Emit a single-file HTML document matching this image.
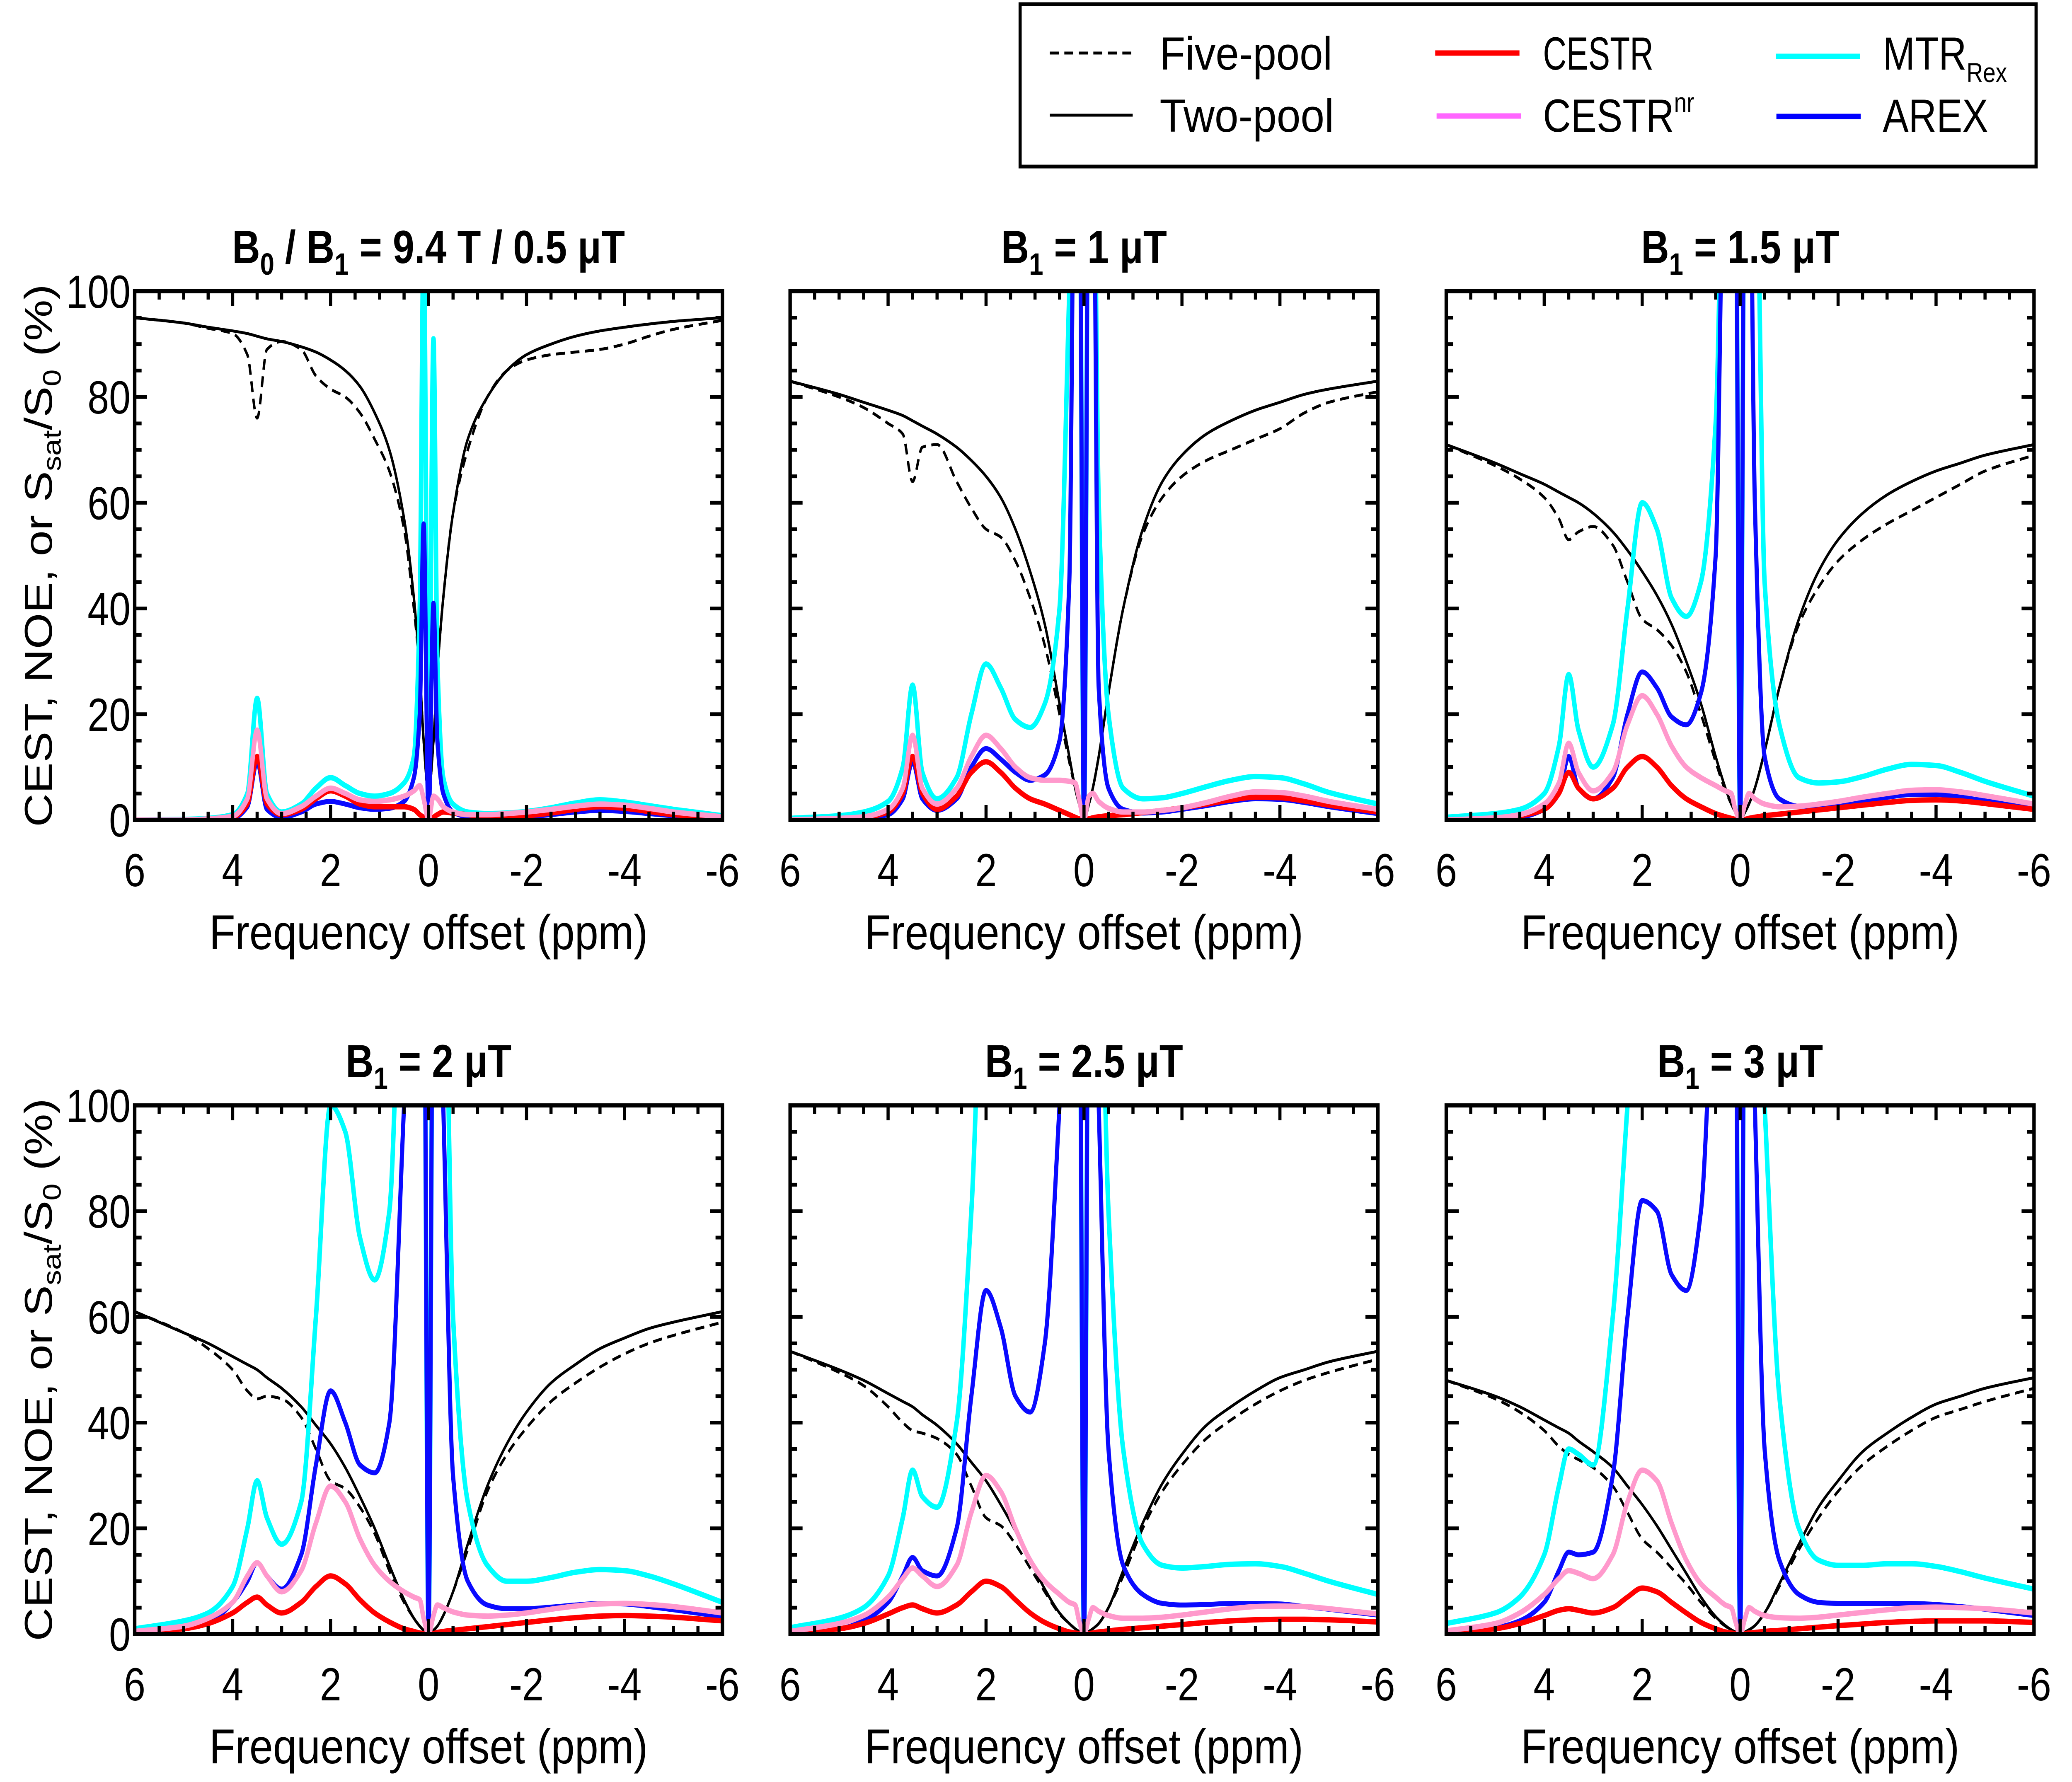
<!DOCTYPE html>
<html><head><meta charset="utf-8"><style>
html,body{margin:0;padding:0;background:#fff;overflow:hidden;width:100%;height:100%;}
svg{display:block;width:100vw;height:100vh;}
text{font-family:"Liberation Sans Narrow","Liberation Sans",sans-serif;fill:#000;}
</style></head><body>
<svg id="chart" xmlns="http://www.w3.org/2000/svg" viewBox="0 0 6000 4301" preserveAspectRatio="none">
<g id="legend">
<rect x="2954" y="10" width="2942" height="392" fill="#fff" stroke="#000" stroke-width="9"/>
<line x1="3040" y1="128" x2="3280" y2="128" stroke="#000" stroke-width="7" stroke-dasharray="26,16"/>
<text x="3358" y="168" font-size="112" textLength="500" lengthAdjust="spacingAndGlyphs">Five-pool</text>
<line x1="3040" y1="278" x2="3280" y2="278" stroke="#000" stroke-width="7"/>
<text x="3358" y="318" font-size="112" textLength="505" lengthAdjust="spacingAndGlyphs">Two-pool</text>
<line x1="4156" y1="128" x2="4400" y2="128" stroke="#ff0000" stroke-width="13"/>
<text x="4468" y="168" font-size="112" textLength="320" lengthAdjust="spacingAndGlyphs">CESTR</text>
<line x1="4160" y1="280" x2="4404" y2="280" stroke="#ff66ff" stroke-width="13"/>
<text x="4468" y="318" font-size="112">CESTR<tspan font-size="66" dy="-48">nr</tspan></text>
<line x1="5142" y1="136" x2="5386" y2="136" stroke="#00ffff" stroke-width="13"/>
<text x="5452" y="168" font-size="112">MTR<tspan font-size="66" dy="30">Rex</tspan></text>
<line x1="5144" y1="281" x2="5388" y2="281" stroke="#0000ff" stroke-width="13"/>
<text x="5452" y="318" font-size="112">AREX</text>
</g>
</svg>
<script>
// shared frequency-offset grid (ppm)
const ppm = [6,5,4.5,4,3.7,3.5,3.3,3,2.6,2.3,2,1.7,1.4,1.1,0.8,0.5,0.3,0.18,0.1,0,-0.1,-0.18,-0.3,-0.5,-0.8,-1.2,-1.6,-2,-2.5,-3,-3.5,-4,-4.5,-5,-6];
const xTicks = [6,4,2,0,-2,-4,-6];
const xTickLabels = ["6","4","2","0","-2","-4","-6"];
const yTicks = [0,20,40,60,80,100];
const yTickLabels = ["0","20","40","60","80","100"];
const panelTitles = [["B","0"," / B","1"," = 9.4 T / 0.5 μT"],["B","1"," = 1 μT"],["B","1"," = 1.5 μT"],["B","1"," = 2 μT"],["B","1"," = 2.5 μT"],["B","1"," = 3 μT"]];

// Panel 1: B1 = 0.5 uT
const p1Two  = [95,94,93.2,92.5,92,91.5,91,90.5,89.5,88.5,87,85,82,77,70,57,42,28,15,5,15,28,42,58,72,80,85,88,90,91.5,92.5,93.2,93.8,94.3,95];
const p1Five = [95,94,93,92,88,76,89,90.5,89,84,81.5,80,77,72,66,55,40,28,15,5,15,28,42,58,70,80,85,87,88,88.5,89,90,91.5,92.8,94.5];
const p1Cestr= [0,0,0,0.5,3,12,3,1,2,4,5.5,4.5,3,2.5,2.5,2.5,2,1,0.5,0,0.5,1,1.5,1.3,1,0.5,0.6,0.8,1.3,2,2.5,2.2,1.6,1,0.4];
const p1Nr   = [0,0,0.2,0.7,4,17,4,1.2,2.5,4.5,6,5,3.8,3.5,3.8,4.5,5.5,6.5,4,0,4.5,4,2.5,1.5,1,1,1.2,1.5,2,2.6,3,2.8,2.2,1.5,0.6];
const p1Mtr  = [0,0.1,0.3,1,5,23,5,1.5,3,6,8,6.5,5,4.5,5,7,12,40,110,5,91,30,8,3,1.5,1.2,1.3,1.6,2.3,3.2,3.8,3.4,2.7,2,0.8];
const p1Arex = [0,0,0.1,0.3,2.5,11,2,0.5,1.5,3,3.5,3,2.3,2,2.2,3.5,8,20,56,0,41,15,5,1.5,0.6,0.4,0.4,0.6,1,1.5,1.8,1.6,1.2,0.8,0.3];
// Panel 2: B1 = 1 uT
const p2Two  = [83,80.5,79,77.5,76.5,75.5,74.5,73,70.5,68,65,61,55,47,37,22,12,6,3,0,3,6,12,24,40,55,64,69,73,75.5,77.5,79,80.5,81.5,83];
const p2Five = [83,80,78,75,73,64,70.5,71,64,59,55,53.5,49,42,33,20,11,6,3,0,3,6,12,24,40,54,61,65,68,70,72,74,77,79,81];
const p2Cestr= [0,0.2,0.5,1.5,5,12,5,2,4.5,9,11,9,6,4,3,1.8,1,0.5,0.2,0,0.2,0.4,0.6,0.8,1,1.4,1.8,2.3,3,3.8,4.3,4.2,3.6,2.8,1.5];
const p2Nr   = [0,0.3,0.6,2,6,16,6,3,6,12,16,13.5,10,8,7.5,7.5,7.3,7,4,0,4.5,5,3.5,2.2,1.5,1.5,1.8,2.3,3.3,4.5,5.3,5.2,4.5,3.5,2];
const p2Mtr  = [0.3,0.8,1.5,3.5,10,25.5,9,4,8,20,29.5,25,19,17.5,22,40,100,200,200,0,200,200,60,20,6,4,4.2,5,6.3,7.5,8.2,8,6.8,5.2,3];
const p2Arex = [0,0.1,0.3,1,4,11,4,1.8,4,10,13.5,11.5,9,7.5,8.5,15,45,200,200,0,200,200,25,6,2,1.3,1.5,2,2.7,3.5,4,3.9,3.3,2.5,1.2];
// Panel 3: B1 = 1.5 uT
const p3Two  = [71,67.5,65.5,63.5,62,61,60,58,54.5,51,47,42.5,37,30,22,12,6,3,1.5,0,1.5,3,6,13,25,38,47,53,58,61.5,64,66,67.5,69,71];
const p3Five = [71,67,64.5,61,57,53,54.5,55.5,52,45,38,36,33,28,20,11,5.5,3,1.5,0,1.5,3,6,13,25,37,44,49,53,56,58.5,61,63.5,66,69];
const p3Cestr= [0,0.3,0.8,2,5,9,6,4,6,10,12,10,6.5,4,2.5,1.2,0.6,0.3,0.1,0,0.1,0.3,0.5,0.8,1.1,1.5,1.9,2.3,2.8,3.3,3.7,3.8,3.6,3.1,2];
const p3Nr   = [0,0.4,1,3,7,14.5,9,5.5,9,18,23.5,20,14,10,8,6.5,5.5,5,2,0,3,5,4,3,2.5,2.6,3,3.5,4.3,5,5.6,5.7,5.3,4.6,3];
const p3Mtr  = [0.5,1.2,2,5,14,27.5,17,10,18,40,60,55,42,38.5,45,75,200,200,200,0,200,200,200,45,18,8,7,7.2,8.2,9.6,10.5,10.3,9,7.3,4.5];
const p3Arex = [0,0.2,0.5,2,5,12,6,4,8,20,28,25,19.5,18,24,50,200,200,200,0,200,200,60,12,4,2.6,2.7,3,3.7,4.3,4.8,4.8,4.3,3.6,2.2];
// Panel 4: B1 = 2 uT
const p4Two  = [61,57,55,52.5,51,50,48.5,46.5,43,39.5,36,31.5,26,20,13,6.5,3,1.5,0.7,0,0.7,1.5,3.5,8,17,28,36,42,47.5,51,54,56,57.8,59,61];
const p4Five = [61,57,54,50,46,44.5,45,44.5,41,35,29,27.5,24,19,12,6,3,1.5,0.7,0,0.7,1.5,3.5,8,16,27,34,39,44,47.5,50.5,53,55,56.5,59];
const p4Cestr= [0.3,1,2,4,6,7,5.5,4,6,9,11,9.5,6.5,4,2.3,1,0.5,0.2,0.1,0,0.1,0.3,0.5,0.7,1,1.4,1.8,2.2,2.7,3.1,3.4,3.5,3.4,3.2,2.5];
const p4Nr   = [0.5,1.5,3,6,11,13.5,11,8,12,21,28,25,18,13,10,8,7,6.5,3,0,3.5,5.5,5,4.2,3.6,3.4,3.6,4,4.7,5.3,5.7,5.8,5.6,5.2,4];
const p4Mtr  = [1,2.5,4,9,20,29,22,17,25,60,100,95,75,67,80,200,200,200,200,0,200,200,200,60,25,13,10,10,10.7,11.7,12.2,12,11,9.5,6];
const p4Arex = [0.3,1,2,6,10,13.5,11,8.5,15,32,46,40,32,30.5,40,100,200,200,200,0,200,200,100,30,10,5.5,4.8,4.8,5.1,5.5,5.8,5.7,5.2,4.6,3.3];
// Panel 5: B1 = 2.5 uT
const p5Two  = [53.5,50,48,45.5,44,43,41.5,39.5,36,32.5,29,24.5,19.5,14,8.5,4,2,1,0.5,0,0.5,1,2,5,12,21,28.5,34,39.5,43,46,48.5,50,51.5,53.5];
const p5Five = [53.5,49.5,47,43,40,38.5,38,37,34,28,22,20.5,17,12.5,8,3.8,2,1,0.5,0,0.5,1,2,5,11,20,27,32,37,40.5,43.5,46,48,49.5,52];
const p5Cestr= [0.3,1,2,3.8,5,5.5,4.8,4,5.5,8,10,9,6.5,4,2.2,1,0.4,0.2,0.1,0,0.1,0.2,0.4,0.6,0.9,1.2,1.5,1.8,2.2,2.5,2.7,2.8,2.8,2.7,2.3];
const p5Nr   = [0.5,2,3.5,7,10.5,12.5,11,9,13,23,30,27,20,14,10,7.5,6,5.5,2.5,0,3,5,4.3,3.5,3,3,3.2,3.6,4.2,4.8,5.2,5.3,5.2,4.8,3.8];
const p5Mtr  = [1.2,3,5,11,22,31,26,24,40,80,200,200,200,200,200,200,200,200,200,0,200,200,200,80,35,17,13,12.5,12.8,13.2,13.3,12.8,11.5,10,7.5];
const p5Arex = [0.3,1,2.5,6,11,14.5,12,11,20,45,65,58,45,42,55,100,200,200,200,0,200,200,100,35,13,7.5,5.8,5.5,5.6,5.8,5.8,5.7,5.2,4.7,3.6];
// Panel 6: B1 = 3 uT
const p6Two  = [48,45,43,40.5,39,38,36.5,34.5,31.5,28,24.5,20.5,16,11.5,7,3.3,1.6,0.8,0.4,0,0.4,0.8,1.6,4,9.5,17,24,29,34.5,38,41,43.5,45,46.5,48.5];
const p6Five = [48,44.5,42,38.5,35.5,34,33,31.5,28,23,18,15.5,12.5,9.5,6,3,1.5,0.8,0.4,0,0.4,0.8,1.6,4,9,16,22,27,32,35.5,38.5,41,42.5,44,46.5];
const p6Cestr= [0.3,1,2,3.5,4.5,4.8,4.5,4,5,7,8.7,8,6,4,2.2,1,0.4,0.2,0.1,0,0.1,0.2,0.3,0.5,0.7,1,1.3,1.6,1.9,2.2,2.4,2.5,2.5,2.5,2.2];
const p6Nr   = [0.6,2,4,7.5,10.5,12,11.5,10.5,15,25,31,29,21,14,9.5,7,5.5,5,2.5,0,3,5,4.3,3.5,3.1,3,3.2,3.6,4.1,4.6,5,5.1,5,4.8,4];
const p6Mtr  = [2,4,7,15,28,35,34,32,60,100,200,200,200,200,200,200,200,200,200,0,200,200,200,100,45,20,14,13,13,13.3,13.3,12.8,11.8,10.6,8.5];
const p6Arex = [0.4,1.2,2.5,6,12,15.5,15,15.5,30,60,82,80,68,65,80,130,200,200,200,0,200,200,100,35,14,7.5,6,5.8,5.8,5.8,5.8,5.6,5.2,4.7,3.5];

const panelTwo  = [p1Two,p2Two,p3Two,p4Two,p5Two,p6Two];
const panelFive = [p1Five,p2Five,p3Five,p4Five,p5Five,p6Five];
const panelCestr= [p1Cestr,p2Cestr,p3Cestr,p4Cestr,p5Cestr,p6Cestr];
const panelNr   = [p1Nr,p2Nr,p3Nr,p4Nr,p5Nr,p6Nr];
const panelMtr  = [p1Mtr,p2Mtr,p3Mtr,p4Mtr,p5Mtr,p6Mtr];
const panelArex = [p1Arex,p2Arex,p3Arex,p4Arex,p5Arex,p6Arex];

const NS = "http://www.w3.org/2000/svg";
const svg = document.getElementById('chart');
const colX = [390, 2288, 4188], W = 1702;
const rowY = [703, 2668], H = 1276;

function mk(tag, attrs, parent){
  const e = document.createElementNS(NS, tag);
  for (const k in attrs) e.setAttribute(k, attrs[k]);
  parent.appendChild(e); return e;
}
// monotone cubic path
function monoPath(px, py){
  const n = px.length, d = [], m = new Array(n);
  for (let i=0;i<n-1;i++) d.push((py[i+1]-py[i])/(px[i+1]-px[i]));
  m[0]=d[0]; m[n-1]=d[n-2];
  for (let i=1;i<n-1;i++){ if (d[i-1]*d[i] <= 0) m[i]=0; else m[i]= 2/(1/d[i-1]+1/d[i]); }
  let s = "M"+px[0].toFixed(1)+","+py[0].toFixed(1);
  for (let i=0;i<n-1;i++){
    const h = px[i+1]-px[i];
    s += "C"+(px[i]+h/3).toFixed(1)+","+(py[i]+m[i]*h/3).toFixed(1)+" "+(px[i+1]-h/3).toFixed(1)+","+(py[i+1]-m[i+1]*h/3).toFixed(1)+" "+px[i+1].toFixed(1)+","+py[i+1].toFixed(1);
  }
  return s;
}

for (let p=0;p<6;p++){
  const x0 = colX[p%3], y0 = rowY[Math.floor(p/3)];
  const xs = v => x0 + (6 - v)/12*W;
  const ys = v => y0 + H - v/100*H;
  const g = mk('g', {}, svg);
  
  
  const cid = 'clip'+p;
  const cp = mk('clipPath', {id:cid}, g);
  mk('rect', {x:x0, y:y0, width:W, height:H}, cp);
  const plot = mk('g', {'clip-path':'url(#'+cid+')'}, g);
  const series = [
    [panelTwo[p], '#000', 7, null, 'two-pool-line'],
    [panelFive[p], '#000', 7, '26,16', 'five-pool-line'],
    [panelMtr[p], '#00ffff', 13, null, 'mtrrex-line'],
    [panelArex[p], '#0a0aff', 12, null, 'arex-line'],
    [panelCestr[p], '#ff0000', 13, null, 'cestr-line'],
    [panelNr[p], '#ff99cc', 13, null, 'cestr-nr-line']
  ];
  for (const s of series){
    const px = ppm.map(xs), py = s[0].map(v => ys(Math.min(v, 140)));
    const path = mk('path', {d:monoPath(px, py), fill:'none', stroke:s[1], 'stroke-width':s[2], 'stroke-linejoin':'round'}, plot);
    if (s[3]) path.setAttribute('stroke-dasharray', s[3]);
    
    
  }
  // ticks
  const tk = mk('g', {stroke:'#000', 'stroke-width':9}, g);
  
  
  for (let v=-6; v<=6.001; v+=0.5){
    const major = Math.abs(v/2 - Math.round(v/2)) < 1e-6;
    const L = major ? 36 : 20, x = xs(v);
    mk('line', {x1:x, y1:y0+H, x2:x, y2:y0+H-L}, tk);
    mk('line', {x1:x, y1:y0, x2:x, y2:y0+L}, tk);
  }
  for (let v=0; v<=100; v+=5){
    const L = (v%20===0) ? 36 : 20, y = ys(v);
    mk('line', {x1:x0, y1:y, x2:x0+L, y2:y}, tk);
    mk('line', {x1:x0+W, y1:y, x2:x0+W-L, y2:y}, tk);
  }
  const fr = mk('rect', {x:x0, y:y0, width:W, height:H, fill:'none', stroke:'#000', 'stroke-width':10}, g);
  
  
  // x tick labels
  xTicks.forEach((v,i)=>{
    const t = mk('text', {x:xs(v), y:y0+H+160, 'font-size':112, 'text-anchor':'middle'}, g);
    t.textContent = xTickLabels[i];
    
    
  });
  const xl = mk('text', {x:x0+W/2, y:y0+H+312, 'font-size':118, 'text-anchor':'middle', textLength:1270, lengthAdjust:'spacingAndGlyphs'}, g);
  xl.textContent = 'Frequency offset (ppm)';
  
  
  if (p%3===0){
    yTicks.forEach((v,i)=>{
      const t = mk('text', {x:x0-12, y:ys(v)+40, 'font-size':112, 'text-anchor':'end'}, g);
      t.textContent = yTickLabels[i];
      
      
    });
    const yl = mk('text', {x:0, y:0, 'font-size':112, 'text-anchor':'middle', transform:'translate(150,'+(y0+H/2)+') rotate(-90)'}, g);
    
    
    const parts = [['CEST, NOE, or S',0],['sat',1],['/S',0],['0',1],[' (%)',0]];
    let prevSub = false;
    parts.forEach(pt=>{
      const ts = mk('tspan', {}, yl);
      if (pt[1]){ ts.setAttribute('font-size', 74); ts.setAttribute('dy', 26); }
      else if (prevSub){ ts.setAttribute('dy', -26); }
      prevSub = !!pt[1];
      ts.textContent = pt[0];
    });
  }
  // title
  const tt = mk('text', {x:x0+W/2, y:y0-68, 'font-size':112, 'font-weight':'bold', 'text-anchor':'middle'}, g);
  
  
  const tp = panelTitles[p];
  tp.forEach((s,i)=>{
    const ts = mk('tspan', {}, tt);
    if (i%2===1){ ts.setAttribute('font-size', 74); ts.setAttribute('dy', 28); }
    else if (i>0){ ts.setAttribute('dy', -28); }
    ts.textContent = s;
  });
}
</script>
</body></html>
